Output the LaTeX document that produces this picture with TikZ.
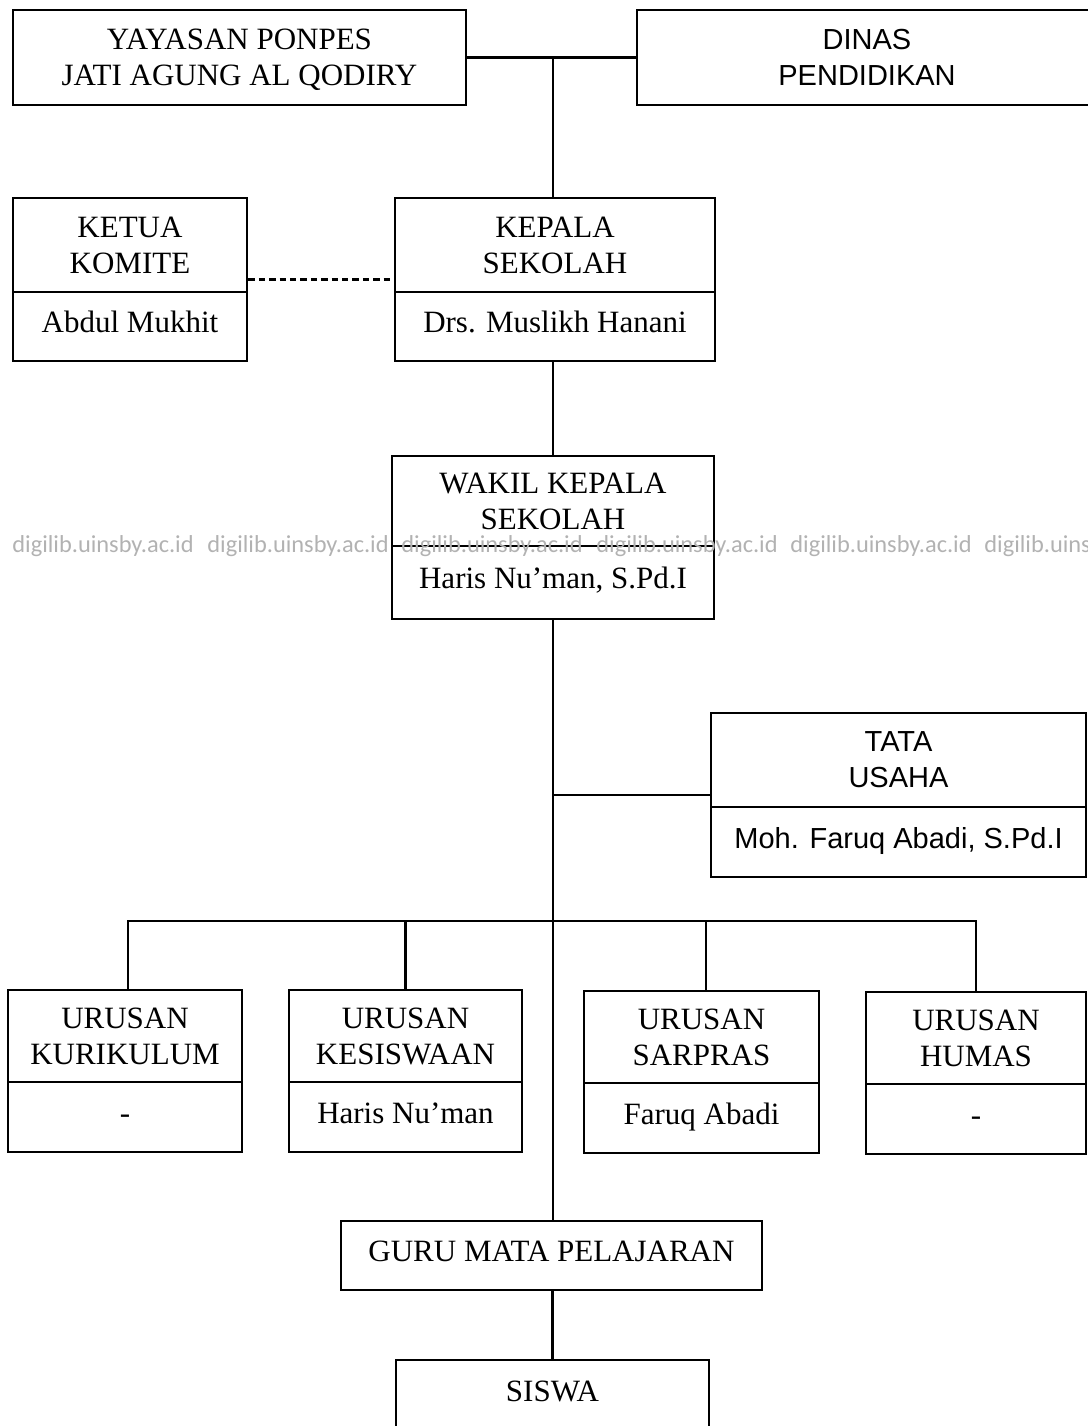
\documentclass[tikz,border=0pt]{standalone}
\usepackage{fontspec}
\setmainfont{Liberation Serif}
\newfontfamily\hsans{Liberation Sans}
\newfontfamily\wmfont{Carlito}
\begin{document}
\begin{tikzpicture}[x=0.5pt,y=-0.5pt,
  box/.style={draw, line width=1.4pt, inner sep=0pt, align=center,
    font=\fontsize{15.5}{18}\selectfont},
  sbox/.style={box, font=\hsans\fontsize{14.5}{18}\selectfont},
  namebox/.style={box, text height=10pt, text depth=4pt},
  snamebox/.style={sbox, text height=10pt, text depth=4pt},
  conn/.style={line width=1.1pt},
  wm/.style={anchor=base west, inner sep=0pt, text=black!30,
    font=\wmfont\fontsize{12.2}{14}\selectfont}]
\useasboundingbox (0,0) rectangle (1088,1426);
% top level
\node[box, minimum width=226.5pt, minimum height=47.5pt, text depth=0pt] (yay) at (239.5,57.5) {YAYASAN PONPES\\JATI AGUNG AL QODIRY};
\node[sbox, minimum width=230pt, minimum height=47.5pt] (din) at (867,57.5) {DINAS\\PENDIDIKAN};
% ketua komite
\node[box, minimum width=117pt, minimum height=47pt] (ketT) at (130,245) {KETUA\\KOMITE};
\node[namebox, minimum width=117pt, minimum height=34.5pt] (ketB) at (130,326.5) {Abdul Mukhit};
% kepala sekolah
\node[box, minimum width=160pt, minimum height=47pt] (kepT) at (555,245) {KEPALA\\SEKOLAH};
\node[namebox, minimum width=160pt, minimum height=34.5pt] (kepB) at (555,326.5) {Drs. Muslikh Hanani};
% wakil
\node[box, minimum width=161pt, minimum height=45pt] (wakT) at (553,501) {WAKIL KEPALA\\SEKOLAH};
\node[namebox, minimum width=161pt, minimum height=36.5pt] (wakB) at (553,582.5) {Haris Nu'man, S.Pd.I};
% tata usaha
\node[sbox, minimum width=187.5pt, minimum height=47pt] (tatT) at (898.5,760) {TATA\\USAHA};
\node[snamebox, minimum width=187.5pt, minimum height=35pt] (tatB) at (898.5,842) {Moh. Faruq Abadi, S.Pd.I};
% urusan
\node[box, minimum width=117pt, minimum height=46pt] (kurT) at (125,1036) {URUSAN\\KURIKULUM};
\node[namebox, minimum width=117pt, minimum height=35pt] (kurB) at (125,1117) {-};
\node[box, minimum width=116.5pt, minimum height=46pt] (kesT) at (405.5,1036) {URUSAN\\KESISWAAN};
\node[namebox, minimum width=116.5pt, minimum height=35pt] (kesB) at (405.5,1117) {Haris Nu'man};
\node[box, minimum width=117.5pt, minimum height=46pt] (sarT) at (701.5,1037) {URUSAN\\SARPRAS};
\node[namebox, minimum width=117.5pt, minimum height=35pt] (sarB) at (701.5,1118) {Faruq Abadi};
\node[box, minimum width=110pt, minimum height=46pt] (humT) at (976,1038) {URUSAN\\HUMAS};
\node[namebox, minimum width=110pt, minimum height=35pt] (humB) at (976,1119) {-};
% guru, siswa
\node[namebox, minimum width=210.5pt, minimum height=34.5pt] (guru) at (551.5,1255.5) {GURU MATA PELAJARAN};
\node[namebox, minimum width=156.5pt, minimum height=35pt] (sis) at (552.5,1395) {SISWA};
% connectors
\coordinate (jTop) at (553,58);
\coordinate (jTata) at (553,795);
\coordinate (bus) at (553,921);
\draw[conn] (yay.east) -- (din.west);
\draw[conn] (jTop) -- (jTop |- kepT.north);
\draw[conn, line width=1.3pt, dash pattern=on 3.2pt off 2pt] (ketT.south east) ++(0,-14) coordinate (dL) -- (dL -| kepT.west);
\draw[conn] (kepB.south -| jTop) -- (wakT.north -| jTop);
\draw[conn] (wakB.south -| jTop) -- (guru.north -| jTop);
\draw[conn] (jTata) -- (jTata -| tatT.west);
\coordinate (kurX) at (128,921);
\coordinate (sarX) at (706,921);
\draw[conn] (kurX |- kurT.north) -- (kurX) -- (bus -| humT.north) -- (humT.north);
\draw[conn] (kesT.north) -- (kesT.north |- bus);
\draw[conn] (sarX |- sarT.north) -- (sarX);
\draw[conn] (guru.south -| sis.north) -- (sis.north);
% watermark
\foreach \i/\xx in {1/12,2/207,3/401,4/596,5/790}
  \node[wm] (wm\i) at (\xx,552) {digilib.uinsby.ac.id};
\node[wm] (wm6) at (984,552) {digilib.uins};
\end{tikzpicture}
\end{document}
